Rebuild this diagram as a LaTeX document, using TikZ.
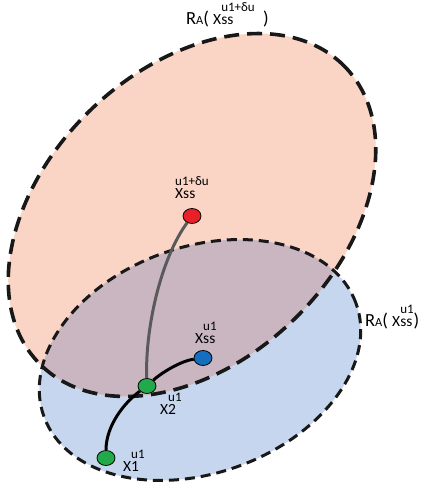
\documentclass[tikz,border=0pt]{standalone}
\usepackage{fontspec}
\setmainfont{Carlito}
\usetikzlibrary{shapes.geometric}

\definecolor{peach}{RGB}{250,212,196}
\definecolor{paleblue}{RGB}{198,214,238}
\definecolor{mauve}{RGB}{201,182,192}
\definecolor{dashcol}{RGB}{24,24,24}
\definecolor{ssred}{RGB}{232,32,40}
\definecolor{ssblue}{RGB}{22,110,190}
\definecolor{ssgreen}{RGB}{34,170,74}
\definecolor{trajgray}{RGB}{90,90,90}

% font sizes for the labels
\newcommand\bigf{\fontsize{18.5}{20}\selectfont}
\newcommand\smallcapf{\fontsize{12.4}{14}\selectfont}
\newcommand\mainf{\fontsize{15.5}{18}\selectfont}
\newcommand\supf{\fontsize{13}{15}\selectfont}

% subscript on the baseline with a raised superscript over it
\newcommand\supsub[3][13.5pt]{%
  \begingroup
  \setbox0\hbox{#2}%
  \setbox2\hbox{\supf #3}%
  \dimen0=\wd0 \ifdim\wd2>\dimen0 \dimen0=\wd2 \fi
  \hbox to \dimen0{\rlap{\raise#1\box2}\box0\hss}%
  \endgroup}

\begin{document}
\begin{tikzpicture}[x=1pt,y=1pt,
  outlineA/.style={draw=dashcol, line width=3.6pt, dash pattern=on 15pt off 8pt},
  outlineB/.style={draw=dashcol, line width=3pt, dash pattern=on 10pt off 6pt},
  regionA/.style={shift={(192,275)}, rotate=44},
  regionB/.style={shift={(200,130)}, rotate=20},
  state/.style={ellipse, draw=black, line width=0.8pt, minimum width=18pt,
                minimum height=15pt, inner sep=0pt},
  traj/.style={line width=3pt, draw=black},
  lbl/.style={anchor=base west, inner sep=0pt, font=\mainf},
]
\useasboundingbox (0,0) rectangle (429,490);

% reachable sets: fills, overlap, dashed boundaries
\fill[paleblue, regionB] (0,0) ellipse [x radius=166, y radius=113];
\fill[peach, regionA] (0,0) ellipse [x radius=213, y radius=146];
\begin{scope}
  \clip[regionB] (0,0) ellipse [x radius=166, y radius=113];
  \fill[mauve, regionA] (0,0) ellipse [x radius=213, y radius=146];
\end{scope}
\draw[outlineA, regionA] (0,0) ellipse [x radius=213, y radius=146];
\draw[outlineB, regionB] (0,0) ellipse [x radius=166, y radius=113];

% states
\node[state, fill=ssred]   (xsd) at (192,274) {};
\node[state, fill=ssblue]  (xs)  at (203,132) {};
\node[state, fill=ssgreen] (x2)  at (147,104) {};
\node[state, fill=ssgreen] (x1)  at (106,32)  {};

% trajectories
\draw[traj, draw=trajgray] (xsd) .. controls (160,230) and (145,160) .. (x2);
\draw[traj] (x2) .. controls (160,116) and (180,129) .. (xs);
\draw[traj] (x2) .. controls (125,88) and (106,65) .. (x1);

% labels
\node[lbl] (lA) at (186,465)
  {\bigf R\smallcapf A\bigf( \mainf X\supsub{ss}{u1+δu}\bigf\ \ )};
\node[lbl] (lB) at (365,163)
  {\bigf R\smallcapf A\bigf( \mainf X\supsub{ss}{u1}\bigf)};
\node[lbl] (lxsd) at (175,291)
  {\rlap{\raise13.5pt\hbox{\supf u1+δu}}Xss};
\node[lbl] (lxs) at (195,146) {X\supsub{ss}{u1}};
\node[lbl] (lx2) at (160,75)  {X\supsub{2}{u1}};
\node[lbl] (lx1) at (123,18)  {X\supsub{1}{u1}};
\end{tikzpicture}
\end{document}
